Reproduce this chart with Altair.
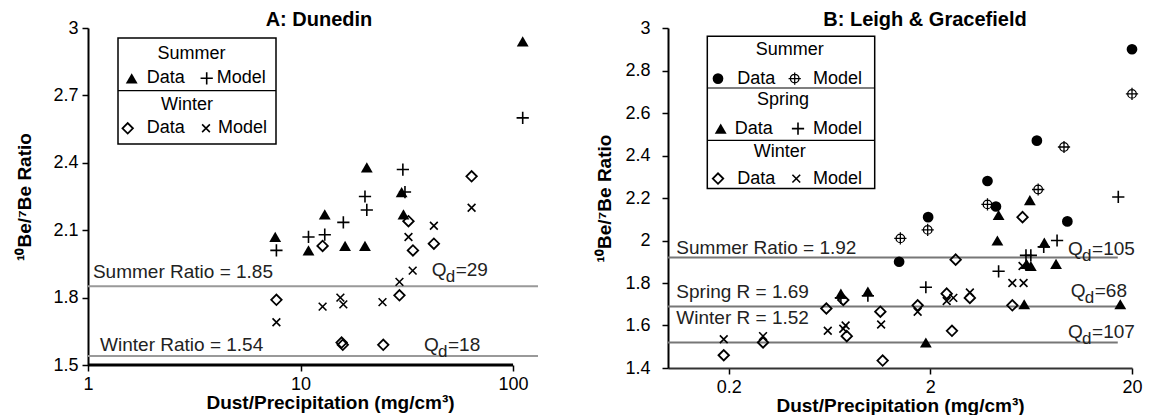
import altair as alt
import pandas as pd

FONT = "Liberation Sans"

# ---------------- Panel A: Dunedin ----------------
a_sum_data_x = [7.6, 10.9, 13.0, 16.2, 20.5, 20.1, 29.9, 30.5, 111]
a_sum_data_y = [2.07, 2.01, 2.17, 2.03, 2.38, 2.03, 2.27, 2.17, 2.94]
a_sum_model_x = [7.7, 10.9, 13.0, 15.9, 20.1, 20.5, 30.3, 31.0, 111]
a_sum_model_y = [2.01, 2.07, 2.08, 2.135, 2.25, 2.19, 2.37, 2.27, 2.60]
a_win_data_x = [7.7, 12.7, 15.6, 15.8, 24.5, 29.2, 32.2, 33.8, 42.4, 63.8]
a_win_data_y = [1.79, 2.03, 1.60, 1.59, 1.59, 1.81, 2.14, 2.01, 2.04, 2.34]
a_win_model_x = [7.7, 12.7, 15.4, 15.9, 24.3, 29.2, 32.2, 33.7, 42.4, 63.8]
a_win_model_y = [1.69, 1.76, 1.80, 1.77, 1.78, 1.87, 2.07, 1.92, 2.12, 2.20]
a_ratios = [1.85, 1.54]
a_ratio_text = ["Summer Ratio = 1.85", "Winter Ratio = 1.54"]
a_qd = ["=29", "=18"]

# ---------------- Panel B: Leigh & Gracefield ----------------
b_sum_data_x = [1.40, 1.95, 3.84, 4.23, 6.75, 9.56, 20.0]
b_sum_data_y = [1.90, 2.11, 2.28, 2.16, 2.47, 2.09, 2.90]
b_sum_model_x = [1.42, 1.94, 3.84, 6.85, 9.2, 20.0]
b_sum_model_y = [2.01, 2.05, 2.17, 2.24, 2.44, 2.69]
b_spr_data_x = [0.72, 0.98, 1.9, 4.36, 4.3, 5.84, 6.0, 6.3, 6.23, 7.35, 8.4, 17.5]
b_spr_data_y = [1.75, 1.76, 1.52, 2.12, 2.00, 1.70, 1.89, 1.88, 2.19, 1.99, 1.89, 1.70]
b_spr_model_x = [0.72, 0.98, 1.9, 4.36, 5.96, 6.3, 7.3, 8.5, 17.1]
b_spr_model_y = [1.73, 1.74, 1.78, 1.855, 1.93, 1.93, 1.97, 2.00, 2.205]
b_win_data_x = [0.189, 0.296, 0.61, 0.74, 0.77, 1.13, 1.16, 1.73, 2.41, 2.56, 2.67, 3.14, 5.1, 5.73]
b_win_data_y = [1.46, 1.52, 1.68, 1.72, 1.55, 1.665, 1.435, 1.695, 1.75, 1.575, 1.91, 1.73, 1.695, 2.11]
b_win_model_x = [0.189, 0.296, 0.62, 0.74, 0.76, 1.14, 1.73, 2.41, 2.6, 3.14, 5.1, 5.8, 5.73]
b_win_model_y = [1.535, 1.55, 1.575, 1.585, 1.60, 1.605, 1.665, 1.715, 1.73, 1.755, 1.80, 1.80, 1.88]
b_ratios = [1.92, 1.69, 1.52]
b_ratio_text = ["Summer Ratio = 1.92", "Spring R = 1.69", "Winter R = 1.52"]
b_qd = ["=105", "=68", "=107"]

# marker glyphs
PLUS = "M-1,0L1,0M0,-1L0,1"
TIMES = "M-1,-1L1,1M-1,1L1,-1"
OPLUS = "M-0.7,0A0.7,0.7 0 1,0 0.7,0A0.7,0.7 0 1,0 -0.7,0M-1,0L1,0M0,-1L0,1"
MARKS = {
    "tri": dict(shape="triangle-up", filled=True, size=140, strokeWidth=0),
    "plus": dict(shape=PLUS, filled=False, size=150, strokeWidth=1.6),
    "dia": dict(shape="diamond", filled=False, size=110, strokeWidth=1.8),
    "times": dict(shape=TIMES, filled=False, size=60, strokeWidth=1.6),
    "dot": dict(shape="circle", filled=True, size=115, strokeWidth=0),
    "oplus": dict(shape=OPLUS, filled=False, size=150, strokeWidth=1.3),
}


def one():
    return pd.DataFrame({"k": [0]})


def scatter(xs, ys, kind, X, Y):
    df = pd.DataFrame({"x": xs, "y": ys})
    return alt.Chart(df).mark_point(color="black", opacity=1, **MARKS[kind]).encode(x=X, y=Y)


def legend_text(txt, x, y, align="left"):
    return alt.Chart(one()).mark_text(
        font=FONT, fontSize=18, align=align, baseline="middle", color="black"
    ).encode(x=alt.value(x), y=alt.value(y), text=alt.value(txt))


def legend_sym(kind, x, y):
    return alt.Chart(one()).mark_point(color="black", opacity=1, **MARKS[kind]).encode(
        x=alt.value(x), y=alt.value(y)
    )


def legend_box(x, x2, y, y2):
    return alt.Chart(one()).mark_rect(fill="white", stroke="black", strokeWidth=1.5).encode(
        x=alt.value(x), x2=alt.value(x2), y=alt.value(y), y2=alt.value(y2)
    )


def legend_rule(x, x2, y):
    return alt.Chart(one()).mark_rule(color="black", strokeWidth=1.2).encode(
        x=alt.value(x), x2=alt.value(x2), y=alt.value(y)
    )


def title_text(txt, x):
    return alt.Chart(one()).mark_text(
        font=FONT, fontSize=20, fontWeight="bold", align="center", baseline="middle", color="black"
    ).encode(x=alt.value(x), y=alt.value(-8), text=alt.value(txt))


def qd_labels(df, X, Y):
    base = alt.Chart(df)
    q = base.mark_text(font=FONT, fontSize=19, align="left", baseline="middle", color="#222").encode(
        x=X, y=Y, text=alt.value("Q"))
    d = base.mark_text(font=FONT, fontSize=17, align="left", baseline="middle", color="#222",
                       dx=14, dy=7).encode(x=X, y=Y, text=alt.value("d"))
    v = base.mark_text(font=FONT, fontSize=19, align="left", baseline="middle", color="#222",
                       dx=24).encode(x=X, y=Y, text="t:N")
    return [q, d, v]


def ratio_labels(df, X, Y):
    return alt.Chart(df).mark_text(
        font=FONT, fontSize=19, align="left", baseline="middle", color="#222"
    ).encode(x=X, y=Y, text="t:N")


AXIS_COMMON = dict(
    grid=False, format="~g", labelFlush=False, labelFont=FONT, labelFontSize=18,
    labelColor="black", titleFont=FONT, titleFontWeight="bold", titleFontSize=19,
    titleColor="black", tickColor="black", tickWidth=1.5, tickSize=6,
)

# ---------- Panel A ----------
WA, HA = 450, 337
XA = alt.X("x:Q", scale=alt.Scale(type="log", domain=[1, 131], nice=False),
           axis=alt.Axis(values=[1, 10, 100], domain=False, labelPadding=4,
                         title="Dust/Precipitation (mg/cm³)", titlePadding=0, titleX=242,
                         **AXIS_COMMON))
YA = alt.Y("y:Q", scale=alt.Scale(domain=[1.5, 3], zero=False, nice=False),
           axis=alt.Axis(values=[1.5, 1.8, 2.1, 2.4, 2.7, 3.0], domain=True, domainColor="black",
                         domainWidth=2, labelPadding=4, title="¹⁰Be/⁷Be Ratio", titlePadding=18,
                         **AXIS_COMMON))

a_lines = alt.Chart(pd.DataFrame({"y": a_ratios})).mark_rule(color="#999", strokeWidth=2).encode(y=YA)
a_axis_line = alt.Chart(pd.DataFrame({"x": [1], "x2": [100], "y": [1.5]})).mark_rule(
    color="black", strokeWidth=3).encode(x=XA, x2="x2:Q", y=YA)
a_rl = ratio_labels(pd.DataFrame({"x": [1.055, 1.14], "y": [1.913, 1.59], "t": a_ratio_text}), XA, YA)
a_q = qd_labels(pd.DataFrame({"x": [41.4, 38.1], "y": [1.925, 1.59], "t": a_qd}), XA, YA)

panel_a = alt.layer(
    a_lines, a_axis_line, a_rl, *a_q,
    scatter(a_sum_data_x, a_sum_data_y, "tri", XA, YA),
    scatter(a_sum_model_x, a_sum_model_y, "plus", XA, YA),
    scatter(a_win_data_x, a_win_data_y, "dia", XA, YA),
    scatter(a_win_model_x, a_win_model_y, "times", XA, YA),
    legend_box(30, 188, 10, 116),
    legend_rule(30, 188, 62.7),
    legend_text("Summer", 103.5, 25.5, "center"),
    legend_sym("tri", 43.7, 50.3),
    legend_text("Data", 58.7, 50.3),
    legend_sym("plus", 118.7, 50.3),
    legend_text("Model", 128.7, 50.3),
    legend_text("Winter", 99, 76.5, "center"),
    legend_sym("dia", 39.7, 100.3),
    legend_text("Data", 58.7, 100.3),
    legend_sym("times", 118, 100.3),
    legend_text("Model", 130, 100.3),
    title_text("A: Dunedin", 231),
).properties(width=WA, height=HA)

# ---------- Panel B ----------
WB, HB = 464, 340
XB = alt.X("x:Q", scale=alt.Scale(type="log", domain=[0.1, 20], nice=False),
           axis=alt.Axis(values=[0.2, 2, 20], domain=True, domainColor="#333", domainWidth=2,
                         labelPadding=4, title="Dust/Precipitation (mg/cm³)", titlePadding=0,
                         **AXIS_COMMON))
YB = alt.Y("y:Q", scale=alt.Scale(domain=[1.4, 3], zero=False, nice=False),
           axis=alt.Axis(values=[1.4, 1.6, 1.8, 2.0, 2.2, 2.4, 2.6, 2.8, 3.0], domain=True,
                         domainColor="black", domainWidth=2, labelPadding=12,
                         title="¹⁰Be/⁷Be Ratio", titlePadding=10, **AXIS_COMMON))

b_lines = alt.Chart(pd.DataFrame({"x": [0.1] * 3, "x2": [17] * 3, "y": b_ratios})).mark_rule(
    color="#777", strokeWidth=2).encode(x=XB, x2="x2:Q", y=YB)
b_rl = ratio_labels(pd.DataFrame({"x": [0.11, 0.11, 0.11], "y": [1.963, 1.758, 1.634],
                                  "t": b_ratio_text}), XB, YB)
b_q = qd_labels(pd.DataFrame({"x": [9.64, 9.94, 9.64], "y": [1.959, 1.762, 1.569], "t": b_qd}), XB, YB)

panel_b = alt.layer(
    b_lines, b_rl, *b_q,
    scatter(b_win_data_x, b_win_data_y, "dia", XB, YB),
    scatter(b_win_model_x, b_win_model_y, "times", XB, YB),
    scatter(b_spr_model_x, b_spr_model_y, "plus", XB, YB),
    scatter(b_spr_data_x, b_spr_data_y, "tri", XB, YB),
    scatter(b_sum_model_x, b_sum_model_y, "oplus", XB, YB),
    scatter(b_sum_data_x, b_sum_data_y, "dot", XB, YB),
    legend_box(39.3, 206.7, 8.3, 160.6),
    legend_rule(39.3, 206.7, 60),
    legend_rule(39.3, 206.7, 112.3),
    legend_text("Summer", 121.7, 21.6, "center"),
    legend_sym("dot", 50, 50.6),
    legend_text("Data", 69.3, 50.6),
    legend_sym("oplus", 126.7, 50.6),
    legend_text("Model", 145, 50.6),
    legend_text("Spring", 115, 72.3, "center"),
    legend_sym("tri", 52.7, 100.6),
    legend_text("Data", 66.7, 100.6),
    legend_sym("plus", 130, 100.6),
    legend_text("Model", 145, 100.6),
    legend_text("Winter", 111.7, 124, "center"),
    legend_sym("dia", 50, 150.6),
    legend_text("Data", 69.3, 150.6),
    legend_sym("times", 128.3, 150.6),
    legend_text("Model", 145, 150.6),
    title_text("B: Leigh & Gracefield", 257),
).properties(width=WB, height=HB)

chart = alt.hconcat(panel_a, panel_b, spacing=56).properties(
    padding={"left": 15, "top": 10, "right": 0, "bottom": 0},
    background="white",
).configure_view(strokeWidth=0)

chart.save("out.html", embed_options={"renderer": "svg", "actions": False})
